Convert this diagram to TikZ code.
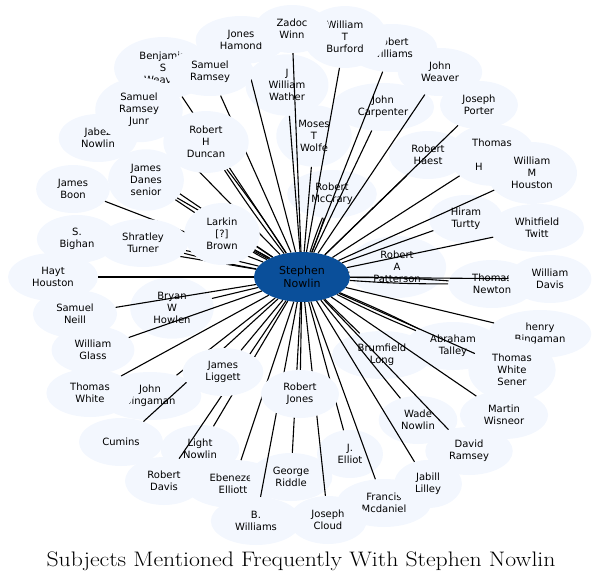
\documentclass[tikz,border=0pt]{standalone}
\usepackage{fontspec}
\newfontfamily\dvs{DejaVu Sans}
\usetikzlibrary{shapes.geometric}
\definecolor{pale}{RGB}{243,247,254}
\definecolor{cblue}{RGB}{10,79,154}
\pgfdeclarelayer{bg}
\pgfdeclarelayer{fg}
\pgfsetlayers{bg,main,fg}
\begin{document}
\begin{tikzpicture}[x=1pt,y=-1pt,
  nd/.style={ellipse, fill=pale, inner xsep=11pt, inner ysep=6pt, minimum height=48pt,
    align=center, font=\dvs\fontsize{10}{12}\selectfont, text=black},
  hub/.style={ellipse, fill=cblue, minimum width=96pt, minimum height=50pt, inner sep=2pt,
    align=center, font=\dvs\fontsize{11}{13}\selectfont, text=black},
  ed/.style={line width=1.1pt, black}]
\useasboundingbox (0,0) rectangle (602,584);
\begin{pgfonlayer}{bg}
\node[nd] (benj) at (163,68) {Benjamin\\S\\Weaver};
\node[nd] (jabez) at (98,138) {Jabez\\Nowlin};
\node[nd] (weaver) at (440,72) {John\\Weaver};
\node[nd] (rwill) at (392,48) {Robert\\Williams};
\node[nd] (burford) at (345,37) {William\\T\\Burford};
\node[nd] (jones) at (241,40) {Jones\\Hamond};
\node[nd] (zadoc) at (292,29) {Zadoc\\Winn};
\node[nd] (wather) at (287,85) {J\\William\\Wather};
\node[nd] (srj) at (139,110) {Samuel\\Ramsey\\Junr};
\node[nd] (carp) at (383,107) {John\\Carpenter};
\node[nd] (porter) at (479,105) {Joseph\\Porter};
\node[nd] (moses) at (314,136) {Moses\\T\\Wolfe};
\node[nd] (haest) at (428,155) {Robert\\Haest};
\node[nd] (thomh) at (492,155) {Thomas\\[12pt]H\hspace*{26pt}};
\node[nd] (wmh) at (532,173) {William\\M\\Houston};
\node[nd] (boon) at (73,189) {James\\Boon};
\node[nd] (mccrary) at (332,194) {Robert\\McCrary};
\node[nd] (hiram) at (466,219) {Hiram\\Turtty};
\node[nd] (twitt) at (537,228) {Whitfield\\Twitt};
\node[nd] (bighan) at (77,239) {S.\\Bighan};
\node[nd] (hayt) at (53,277) {Hayt\\Houston};
\node[nd] (newton) at (492,284) {Thomas\\Newton};
\node[nd] (davis) at (550,279) {William\\Davis};
\node[nd] (neill) at (75,314) {Samuel\\Neill};
\node[nd] (bryan) at (172,308) {Bryan\\W\\Howlen};
\node[nd] (henry) at (540,334) {henry\\Bingaman};
\node[nd] (talley) at (453,346) {Abraham\\Talley};
\node[nd] (brum) at (382,355) {Brumfield\\Long};
\node[nd] (glass) at (93,350) {William\\Glass};
\node[nd] (sener) at (512,370) {Thomas\\White\\Sener};
\node[nd] (jbing) at (150,396) {John\\Bingaman};
\node[nd] (twhite) at (90,393) {Thomas\\White};
\node[nd] (wisneor) at (504,415) {Martin\\Wisneor};
\node[nd] (wade) at (418,420) {Wade\\Nowlin};
\node[nd] (cumins) at (121,442) {Cumins};
\node[nd] (light) at (200,449) {Light\\Nowlin};
\node[nd] (jelliot) at (350,454) {J.\\Elliot};
\node[nd] (dramsey) at (469,451) {David\\Ramsey};
\node[nd] (rdavis) at (164,481) {Robert\\Davis};
\node[nd] (eben) at (233,484) {Ebenezer\\Elliott};
\node[nd] (riddle) at (291,477) {George\\Riddle};
\node[nd] (francis) at (384,503) {Francis\\Mcdaniel};
\node[nd] (cloud) at (328,520) {Joseph\\Cloud};
\node[nd] (lilley) at (428,484) {Jabill\\Lilley};
\node[nd] (bwill) at (256,521) {B.\\Williams};
\node[hub] (c) at (302,277) {Stephen\\Nowlin};
\node[nd] (patt) at (397,267) {Robert\\A\\Patterson};
\end{pgfonlayer}
\begin{pgfonlayer}{fg}
\node[nd] (shratley) at (143,243) {Shratley\\Turner};
\node[nd] (danes) at (146,180) {James\\Danes\\senior};
\node[nd] (samram) at (210,72) {Samuel\\Ramsey};
\node[nd] (duncan) at (206,142) {Robert\\H\\Duncan};
\node[nd] (larkin) at (222,234) {Larkin\\{[?]}\\Brown};
\node[nd] (liggett) at (223,372) {James\\Liggett};
\node[nd] (rjones) at (300,394) {Robert\\Jones};
\end{pgfonlayer}
\foreach \n in {benj,jabez,weaver,rwill,burford,jones,zadoc,wather,srj,carp,porter,moses,haest,thomh,wmh,boon,hiram,twitt,bighan,hayt,davis,neill,bryan,henry,brum,glass,sener,jbing,twhite,wisneor,wade,cumins,light,jelliot,dramsey,rdavis,eben,riddle,francis,cloud,lilley,bwill,patt,samram,liggett,rjones}
  \draw[ed] (c) -- (\n);
\foreach \n in {shratley,danes,duncan,larkin,newton,talley,mccrary}{
  \draw[ed] (c) to[bend left=2] (\n);
  \draw[ed] (c) to[bend right=2] (\n);
}
\draw[ed] (c) -- (larkin);
\node (title) at (301,561) {\fontsize{21}{25}\selectfont\scalebox{1.13}[1]{Subjects Mentioned Frequently With Stephen Nowlin}};
\end{tikzpicture}
\end{document}
